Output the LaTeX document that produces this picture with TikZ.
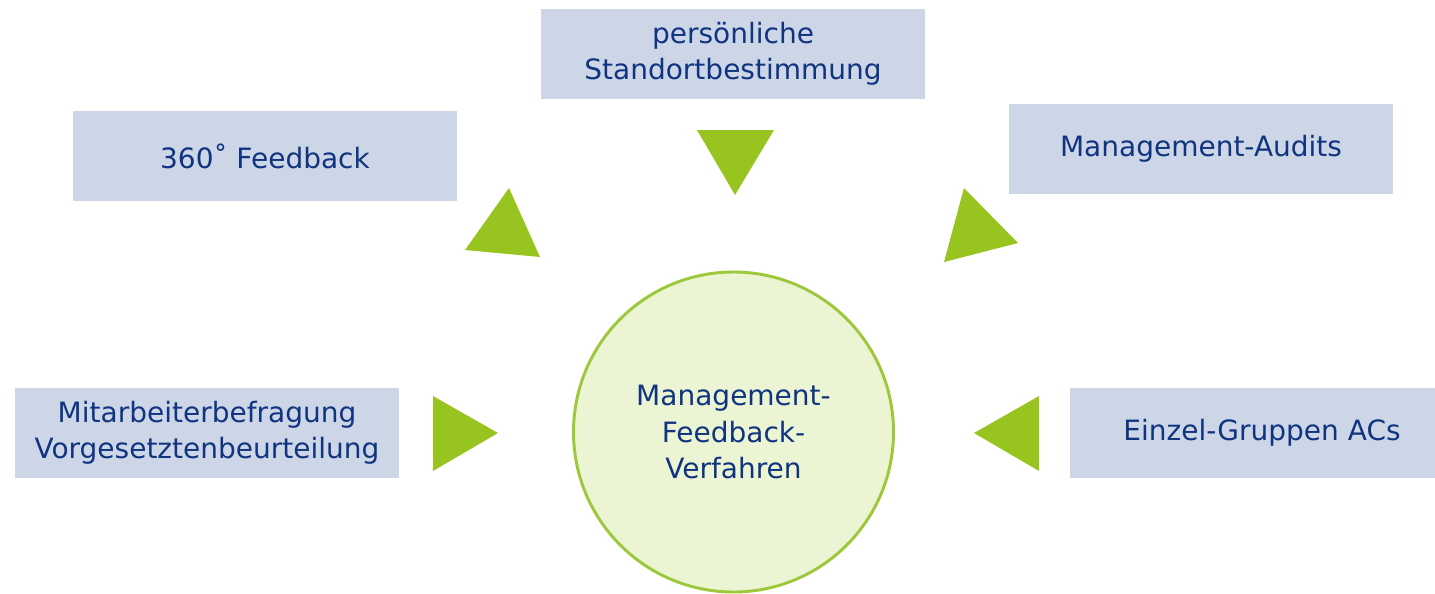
\documentclass[tikz,border=0pt]{standalone}
\usepackage{fontspec}
\setmainfont{DejaVu Sans}
\definecolor{boxfill}{RGB}{205,214,230}
\definecolor{textblue}{RGB}{16,52,128}
\definecolor{arrowgreen}{RGB}{151,196,31}
\definecolor{circfill}{RGB}{235,245,211}
\definecolor{circline}{RGB}{157,200,58}
\begin{document}
\begin{tikzpicture}[x=0.75pt,y=-0.75pt,
  method/.style={rectangle, fill=boxfill, inner sep=0pt,
    minimum width=288pt, minimum height=67.5pt, align=center,
    text=textblue, font=\fontsize{21}{27}\selectfont},
  core/.style={circle, fill=circfill, draw=circline, line width=2.2pt,
    minimum size=240pt, inner sep=0pt, align=center,
    text=textblue, font=\fontsize{21}{27.5}\selectfont},
  pointer/.style={fill=arrowgreen}]
  \useasboundingbox (0,0) rectangle (1435,593);
  \clip (0,0) rectangle (1435,593);

  % surrounding feedback methods
  \node[method] (stand) at (733,53.5) {persönliche\\Standortbestimmung};
  \node[method] (deg)   at (265,156)  {360˚ Feedback};
  \node[method] (audit) at (1201,149) {Management-Audits};
  \node[method] (mab)   at (207,433)  {Mitarbeiterbefragung\\Vorgesetztenbeurteilung};
  \node[method] (ac)    at (1262,433) {Einzel-Gruppen ACs};

  % central circle
  \node[core] (center) at (733.5,432) {Management-\\Feedback-\\Verfahren};

  % green triangles between methods and centre
  \fill[pointer] (697,130) -- (774,130) -- (735,195) -- cycle;
  \fill[pointer] (465,250) -- (509,188) -- (540,257) -- cycle;
  \fill[pointer] (964,188) -- (1018,243) -- (944,262) -- cycle;
  \fill[pointer] (433,396) -- (433,471) -- (498,433) -- cycle;
  \fill[pointer] (1039,396) -- (1039,471) -- (974,433) -- cycle;
\end{tikzpicture}
\end{document}
